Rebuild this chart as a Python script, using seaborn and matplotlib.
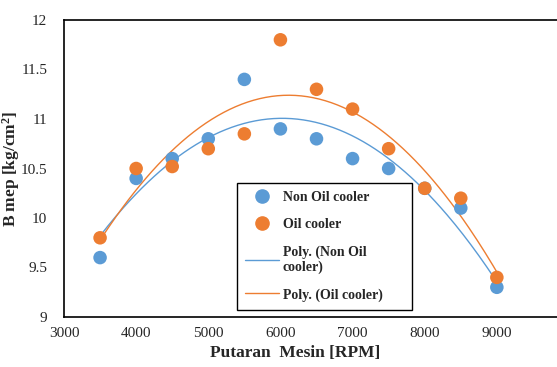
import numpy as np
import matplotlib
matplotlib.use("Agg")
import matplotlib.pyplot as plt
import seaborn as sns
from matplotlib.lines import Line2D

rpm = [3500, 4000, 4500, 5000, 5500, 6000, 6500, 7000, 7500, 8000, 8500, 9000]
non_oil = [9.6, 10.4, 10.6, 10.8, 11.4, 10.9, 10.8, 10.6, 10.5, 10.3, 10.1, 9.3]
oil = [9.8, 10.5, 10.52, 10.7, 10.85, 11.8, 11.3, 11.1, 10.7, 10.3, 10.2, 9.4]

blue = "#5B9BD5"
orange = "#ED7D31"

sns.set_style("white")
plt.rcParams["font.family"] = ["Liberation Serif", "DejaVu Serif"]

fig = plt.figure(figsize=(5.57, 3.67), dpi=100)
ax = fig.add_axes([64 / 557, 50 / 367, 505 / 557, 297 / 367])

# 2nd order polynomial trendlines
xs = np.linspace(rpm[0], rpm[-1], 200)
fit_non = np.polyval(np.polyfit(rpm, non_oil, 2), xs)
fit_oil = np.polyval(np.polyfit(rpm, oil, 2), xs)
sns.lineplot(x=xs, y=fit_non, color=blue, lw=1, ax=ax)
sns.lineplot(x=xs, y=fit_oil, color=orange, lw=1, ax=ax)

sns.scatterplot(x=rpm, y=non_oil, color=blue, s=95, edgecolor="none", ax=ax, zorder=3)
sns.scatterplot(x=rpm, y=oil, color=orange, s=95, edgecolor="none", ax=ax, zorder=3)

ax.set_xlim(3000, 10000)
ax.set_ylim(9, 12)
ax.set_xticks(range(3000, 10000, 1000))
ax.set_yticks([9, 9.5, 10, 10.5, 11, 11.5, 12])
ax.set_yticklabels(["9", "9.5", "10", "10.5", "11", "11.5", "12"])
ax.tick_params(axis="x", direction="in", length=4, width=1, color="black",
               labelsize=11, pad=7)
ax.tick_params(axis="y", direction="in", length=4, width=1, color="black",
               labelsize=11, pad=12)
for s in ["left", "bottom", "top"]:
    ax.spines[s].set_color("black")
    ax.spines[s].set_linewidth(1.2)
ax.spines["right"].set_visible(False)

ax.set_xlabel("Putaran  Mesin [RPM]", fontsize=12.5, fontweight="bold")
ax.xaxis.set_label_coords((295 - 64) / 505, -0.095)
ax.set_ylabel("B mep [kg/cm$\\mathregular{^2}$]", fontsize=12.5, fontweight="bold")
ax.yaxis.set_label_coords((22 - 64) / 505, 0.5)

handles = [
    Line2D([], [], marker="o", ls="none", color=blue, markersize=9.5),
    Line2D([], [], marker="o", ls="none", color=orange, markersize=9.5),
    Line2D([], [], color=blue, lw=1),
    Line2D([], [], color=orange, lw=1),
]
labels = ["Non Oil cooler", "Oil cooler", "Poly. (Non Oil\ncooler)", "Poly. (Oil cooler)"]
leg = fig.legend(handles, labels, loc="upper left",
                 bbox_to_anchor=(237 / 557, 57 / 367, 175 / 557, 127 / 367),
                 mode="expand", borderaxespad=0,
                 frameon=True, fancybox=False, edgecolor="black", framealpha=1,
                 prop={"family": "Liberation Serif", "weight": "bold", "size": 10},
                 handlelength=2.4, labelspacing=1.0, borderpad=0.6, handletextpad=0.3)
leg.get_frame().set_linewidth(1)

fig.savefig("out.png", dpi=100)
